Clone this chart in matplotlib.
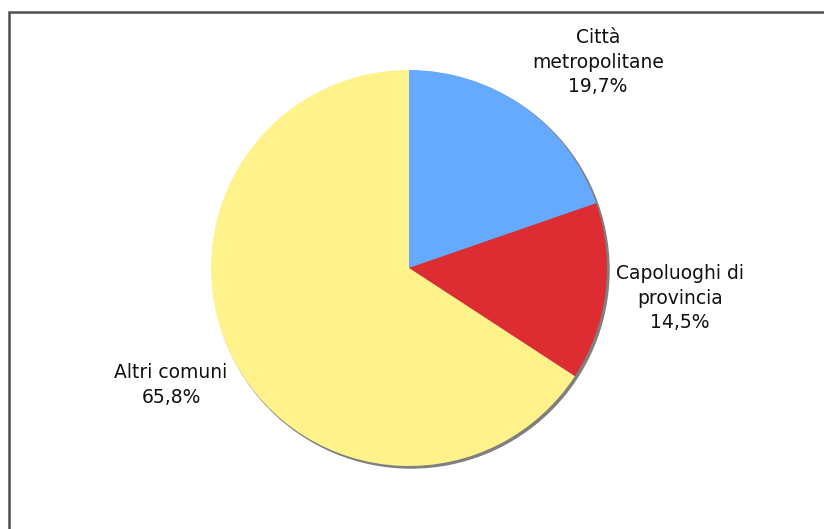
import numpy as np
import matplotlib
matplotlib.use('Agg')
import matplotlib.pyplot as plt
from matplotlib.patches import Circle, Rectangle
from matplotlib.transforms import offset_copy

labels = ['Città\nmetropolitane', 'Capoluoghi di\nprovincia', 'Altri comuni']
shares = [19.7, 14.5, 65.8]
colors = ['#66aaff', '#dd2c32', '#fff28a']
# label centres, in pie radii from the centre
label_pos = [(0.955, 1.040), (1.369, -0.152), (-1.202, -0.591)]

W, H = 824, 529
fig = plt.figure(figsize=(W / 100, H / 100), dpi=100)

# pie centre and radius in pixels
cx, cy, r = 409, 268, 198
ax = fig.add_axes([(cx - r) / W, (H - cy - r) / H, 2 * r / W, 2 * r / H])
ax.set_aspect('equal')
ax.axis('off')

# drop shadow behind the pie
shadow = Circle((0, 0), 1, color='#7f7f7f', zorder=0, clip_on=False,
                transform=offset_copy(ax.transData, fig=fig, x=2, y=-2, units='dots'))
ax.add_patch(shadow)

wedges, _ = ax.pie(shares, colors=colors, startangle=90, counterclock=False, radius=1,
                   wedgeprops=dict(linewidth=0, zorder=1))
for w in wedges:
    w.set_clip_on(False)

for l, v, (x, y) in zip(labels, shares, label_pos):
    s = l + '\n' + ('%.1f' % v).replace('.', ',') + '%'
    ax.text(x, y, s, ha='center', va='center', multialignment='center',
            fontsize=13.5, family='DejaVu Sans', color='#111111', linespacing=1.38)

ax.set_xlim(-1, 1)
ax.set_ylim(-1, 1)

# chart area frame, cropped at right and bottom
fig.patches.append(Rectangle((8.5 / W, -0.1), 2, 1.1 - 11.5 / H, transform=fig.transFigure,
                             fill=False, edgecolor='#505050', linewidth=1.8))

fig.savefig('out.png', dpi=100)
